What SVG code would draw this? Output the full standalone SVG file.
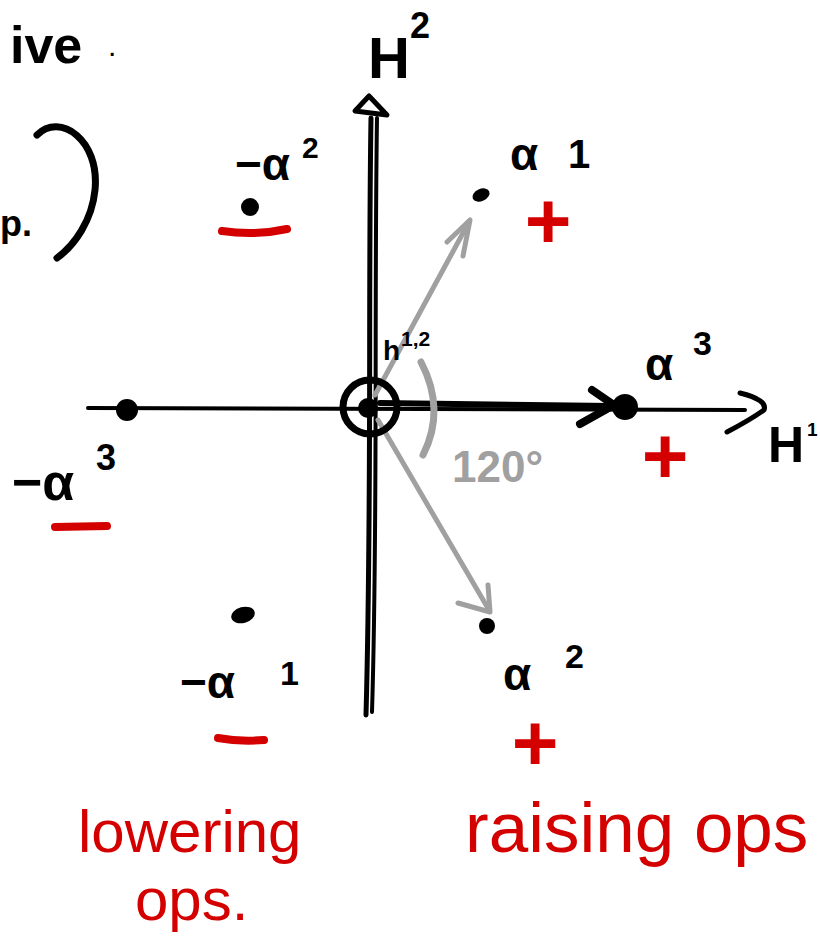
<svg xmlns="http://www.w3.org/2000/svg" width="820" height="940" viewBox="0 0 820 940">
<style>
.k{fill:#000;font-family:"Liberation Sans",Arial,sans-serif}
.b{font-weight:bold}
.r{fill:#d40000;font-family:"Liberation Sans",Arial,sans-serif}
.g{fill:#a0a0a0;font-family:"Liberation Sans",Arial,sans-serif}
.sk{fill:none;stroke:#000;stroke-linecap:round;stroke-linejoin:round}
.sg{fill:none;stroke:#a0a0a0;stroke-linecap:round;stroke-linejoin:round}
.sr{fill:none;stroke:#d40000;stroke-linecap:round;stroke-width:8}
.pm{font-weight:bold;text-anchor:middle}
</style>
<rect width="820" height="940" fill="#fff"/>
<g id="margin-notes">
<text class="k b" x="10" y="63" font-size="52">ive</text>
<text class="k" x="108" y="56" font-size="30">.</text>
<text class="k b" x="0" y="236" font-size="36">p.</text>
<path class="sk" stroke-width="7" d="M37,135 C60,112 100,140 95,190 C92,220 75,245 57,258"/>
</g>
<g id="connectors">
<g id="axis-h2">
<path class="sk" stroke-width="5" d="M371,118 C368,300 372,500 366,715"/>
<path class="sk" stroke-width="4" d="M377,118 C374,320 378,520 372,712"/>
<path class="sk" stroke-width="5" d="M369,96 L355,111 L387,115 Z"/>
</g>
<g id="axis-h1">
<path class="sk" stroke-width="4" d="M88,408 L745,410"/>
<path class="sk" stroke-width="5" d="M740,393 Q768,400 764,410 Q750,420 727,432"/>
</g>
<g id="arrow-alpha3">
<path class="sk" stroke-width="6" d="M380,403 L612,406"/>
<path class="sk" stroke-width="8" d="M592,390 L614,405 L580,424"/>
</g>
<g id="arrow-alpha1">
<path class="sg" stroke-width="5" d="M375,395 L469,222"/>
<path class="sg" stroke-width="5" d="M447,242 L470,220 L463,256"/>
</g>
<g id="arrow-alpha2">
<path class="sg" stroke-width="5" d="M378,420 L489,610"/>
<path class="sg" stroke-width="5" d="M458,603 L490,612 L488,585"/>
</g>
<path id="angle-arc" class="sg" stroke-width="7" d="M421,362 Q446,410 423,455"/>
</g>
<g id="origin">
<circle cx="370" cy="407" r="27" fill="none" stroke="#000" stroke-width="7"/>
<circle cx="368" cy="408" r="10" fill="#000"/>
<text class="k b" x="383" y="360" font-size="28">h</text>
<text class="k b" x="401" y="346" font-size="21">1,2</text>
</g>
<g id="label-h2">
<text class="k b" x="368" y="78" font-size="58">H</text>
<text class="k b" x="410" y="38" font-size="36">2</text>
</g>
<g id="label-h1">
<text class="k b" x="768" y="462" font-size="50">H</text>
<text class="k b" x="807" y="436" font-size="19">1</text>
</g>
<g id="angle-label">
<text class="g b" x="452" y="482" font-size="44">120°</text>
</g>
<g id="root-alpha1">
<ellipse cx="481" cy="195" rx="9" ry="6" transform="rotate(-25 481 195)" fill="#000"/>
<text class="k b" x="510" y="170" font-size="46">α</text>
<text class="k b" x="568" y="168" font-size="40">1</text>
<text class="r pm" x="548" y="248" font-size="80">+</text>
</g>
<g id="root-alpha2">
<circle cx="487" cy="626" r="8" fill="#000"/>
<text class="k b" x="503" y="690" font-size="46">α</text>
<text class="k b" x="565" y="668" font-size="34">2</text>
<text class="r pm" x="535" y="770" font-size="80">+</text>
</g>
<g id="root-alpha3">
<circle cx="625" cy="407" r="13" fill="#000"/>
<text class="k b" x="645" y="380" font-size="46">α</text>
<text class="k b" x="693" y="355" font-size="34">3</text>
<text class="r pm" x="665" y="483" font-size="80">+</text>
</g>
<g id="root-neg-alpha2">
<circle cx="250" cy="207" r="9" fill="#000"/>
<text class="k b" x="235" y="180" font-size="46">−α</text>
<text class="k b" x="302" y="158" font-size="30">2</text>
<path class="sr" d="M222,231 Q255,236 287,229"/>
</g>
<g id="root-neg-alpha3">
<circle cx="127" cy="410" r="11" fill="#000"/>
<text class="k b" x="12" y="500" font-size="52">−α</text>
<text class="k b" x="96" y="470" font-size="36">3</text>
<path class="sr" d="M55,527 L107,526"/>
</g>
<g id="root-neg-alpha1">
<ellipse cx="243" cy="615" rx="12" ry="8" transform="rotate(-15 243 615)" fill="#000"/>
<text class="k b" x="180" y="698" font-size="46">−α</text>
<text class="k b" x="280" y="685" font-size="34">1</text>
<path class="sr" d="M218,738 Q240,742 264,740"/>
</g>
<g id="lowering-note">
<text class="r" x="78" y="852" font-size="60">lowering</text>
<text class="r" x="135" y="920" font-size="60">ops.</text>
</g>
<g id="raising-note">
<text class="r" x="465" y="852" font-size="71">raising ops</text>
</g>
</svg>
